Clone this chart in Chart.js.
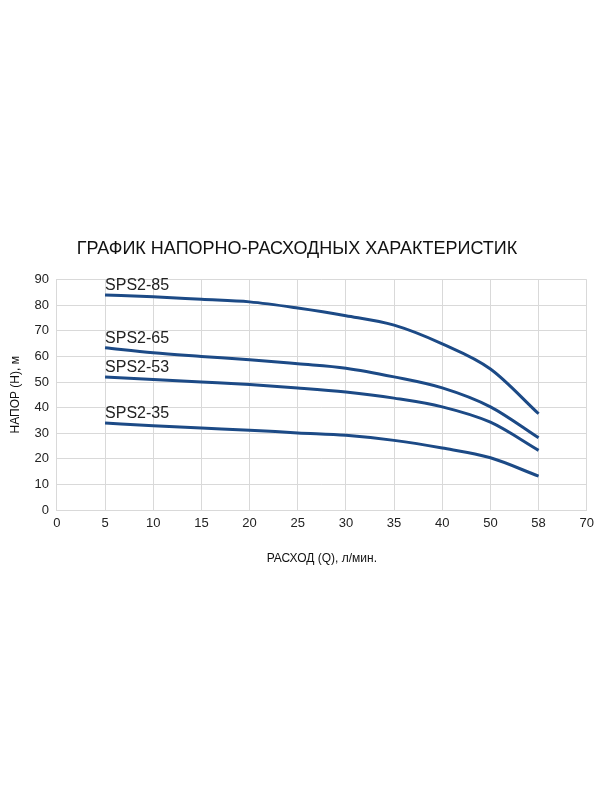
<!DOCTYPE html>
<html><head><meta charset="utf-8">
<script src="https://cdn.jsdelivr.net/npm/chart.js@4"></script>
<style>body{margin:0;background:#fff}#w{position:absolute;left:0;top:230px;width:600px;height:340px}</style>
</head><body><div id="w"><canvas id="c"></canvas></div>
<script>
const categories=['0','5','10','15','20','25','30','35','40','50','58','70'];
const seriesNames=['SPS2-85','SPS2-65','SPS2-53','SPS2-35'];
const sps85=[null,84,83.3,82.3,81.3,78.9,75.9,72.2,64.9,55.1,37.6,null];
const sps65=[null,63.4,61.4,60,58.7,57.1,55.4,52,47.7,40.3,28.2,null];
const sps53=[null,52,51,50,49,47.7,46.1,43.7,40.3,34.3,23.3,null];
const sps35=[null,34,32.9,32,31.2,30.1,29.2,27.2,24.2,20.4,13.2,null];
const yTicks=[0,10,20,30,40,50,60,70,80,90];
const color='#1c4a86';
const labelPlugin={id:'lbl',afterDatasetsDraw(ch){const ctx=ch.ctx;ctx.save();ctx.font='16px "Liberation Sans", Arial';ctx.fillStyle='#222';ctx.textBaseline='bottom';
ch.data.datasets.forEach((d,i)=>{const p=ch.getDatasetMeta(i).data[1];ctx.fillText(d.label,p.x,p.y-1);});ctx.restore();}};
new Chart(document.getElementById('c'),{type:'line',
data:{labels:categories,datasets:[sps85,sps65,sps53,sps35].map((v,i)=>({label:seriesNames[i],data:v,borderColor:color,borderWidth:3,pointRadius:0,tension:0.4,cubicInterpolationMode:'monotone',fill:false}))},
options:{responsive:true,maintainAspectRatio:false,animation:false,
layout:{padding:{left:4,right:10,top:0,bottom:0}},
plugins:{legend:{display:false},tooltip:{enabled:false},
title:{display:true,text:'ГРАФИК НАПОРНО-РАСХОДНЫХ ХАРАКТЕРИСТИК',color:'#111',font:{family:'"Liberation Sans", Arial',size:18,weight:'normal'},padding:{top:8,bottom:20}}},
scales:{x:{offset:false,grid:{color:'#d9d9d9',tickLength:0},border:{color:'#d9d9d9'},ticks:{color:'#222',font:{family:'"Liberation Sans", Arial',size:13},padding:6,maxRotation:0,autoSkip:false},
title:{display:true,text:'РАСХОД (Q), л/мин.',color:'#111',font:{family:'"Liberation Sans", Arial',size:12},padding:{top:14}}},
y:{min:0,max:90,afterBuildTicks(s){s.ticks=yTicks.map(v=>({value:v}));},grid:{color:'#d9d9d9',tickLength:0},border:{color:'#d9d9d9'},ticks:{color:'#222',font:{family:'"Liberation Sans", Arial',size:13},padding:8},
title:{display:true,text:'НАПОР (H), м',color:'#111',font:{family:'"Liberation Sans", Arial',size:12},padding:{bottom:4}}}}},
plugins:[labelPlugin]});
</script></body></html>
